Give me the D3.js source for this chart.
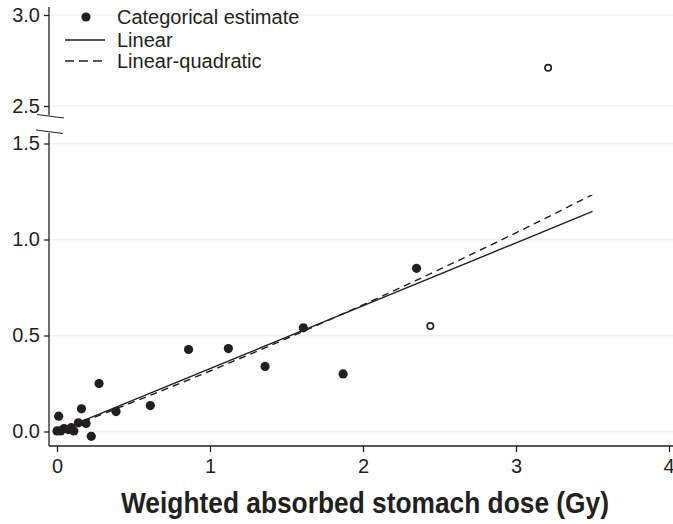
<!DOCTYPE html>
<html>
<head>
<meta charset="utf-8">
<script src="https://cdn.jsdelivr.net/npm/d3@7"></script>
<style>
  html, body { margin: 0; padding: 0; background: #fff; }
  svg { display: block; font-family: "Liberation Sans", Arial, sans-serif; }
</style>
</head>
<body>
<svg id="chart" width="673" height="524"></svg>
<script>
// ---- data ----
const filledDose = [0.00, 0.024, 0.011, 0.046, 0.074, 0.093, 0.11, 0.14, 0.19, 0.16, 0.224, 0.275, 0.386, 0.61, 0.86, 1.12, 1.36, 1.61, 1.87, 2.35];
const filledERR  = [0.003, 0.003, 0.08, 0.015, 0.01, 0.02, 0.003, 0.045, 0.042, 0.118, -0.025, 0.25, 0.104, 0.135, 0.427, 0.432, 0.339, 0.54, 0.30, 0.85];
const openDose = [2.44, 3.21];
const openERR  = [0.549, 2.71];
const linearDose = [0.1, 3.5];
const linearERR  = [0.033, 1.146];
const lqDose = [0.1, 0.5, 1.0, 1.5, 2.0, 2.5, 3.0, 3.5];
const lqERR  = [0.030, 0.154, 0.315, 0.484, 0.660, 0.844, 1.035, 1.234];
const xTicks = [0, 1, 2, 3, 4];
const yTicksLow = [0.0, 0.5, 1.0, 1.5];
const yTicksHigh = [2.5, 3.0];
const legendLabels = ["Categorical estimate", "Linear", "Linear-quadratic"];
const xTitle = "Weighted absorbed stomach dose (Gy)";

// ---- scales ----
const svg = d3.select("#chart");
const ink = "#231f20";
const x = d3.scaleLinear().domain([0, 4]).range([57, 669]);
const yLow = d3.scaleLinear().domain([0, 1.5]).range([431.5, 143.5]);
const yHigh = d3.scaleLinear().domain([2.5, 3.0]).range([106, 15]);
const yAny = v => v >= 2.0 ? yHigh(v) : yLow(v);
const axisX = 49, axisY = 446, rightEdge = 673;

// gridlines
const grid = svg.append("g");
yTicksLow.forEach(t => grid.append("line").attr("x1", axisX).attr("x2", rightEdge)
  .attr("y1", yLow(t)).attr("y2", yLow(t)).attr("stroke", "#efefef").attr("stroke-width", 1.5));
yTicksHigh.forEach(t => grid.append("line").attr("x1", axisX).attr("x2", rightEdge)
  .attr("y1", yHigh(t)).attr("y2", yHigh(t)).attr("stroke", "#efefef").attr("stroke-width", 1.5));

// y axes (two segments)
const yaLow = svg.append("g").attr("transform", `translate(${axisX},0)`)
  .call(d3.axisLeft(yLow).tickValues(yTicksLow).tickFormat(d3.format(".1f")).tickSize(5).tickSizeOuter(0));
yaLow.select(".domain").attr("d", `M0,133V${axisY}`);
const yaHigh = svg.append("g").attr("transform", `translate(${axisX},0)`)
  .call(d3.axisLeft(yHigh).tickValues(yTicksHigh).tickFormat(d3.format(".1f")).tickSize(5).tickSizeOuter(0));
yaHigh.select(".domain").attr("d", "M0,7V115");
[yaLow, yaHigh].forEach(g => {
  g.selectAll("path, line").attr("stroke", ink).attr("stroke-width", 1.3);
  g.selectAll("text").attr("font-size", 20).attr("fill", ink).attr("x", -9)
    .attr("font-family", "Liberation Sans, Arial, sans-serif");
});
// break marks
svg.append("line").attr("x1", 37).attr("y1", 114.5).attr("x2", 64).attr("y2", 118).attr("stroke", ink).attr("stroke-width", 1.2);
svg.append("line").attr("x1", 36).attr("y1", 130).attr("x2", 63).attr("y2", 133.5).attr("stroke", ink).attr("stroke-width", 1.2);

// x axis
const xa = svg.append("g").attr("transform", `translate(0,${axisY})`)
  .call(d3.axisBottom(x).tickValues(xTicks).tickFormat(d3.format("d")).tickSize(6).tickSizeOuter(0));
xa.select(".domain").attr("d", `M${axisX},0H${rightEdge}`);
xa.selectAll("path, line").attr("stroke", ink).attr("stroke-width", 1.3);
xa.selectAll("text").attr("font-size", 20).attr("fill", ink).attr("dy", "0.55em").attr("y", 16)
  .attr("font-family", "Liberation Sans, Arial, sans-serif");
xa.selectAll(".tick").filter(d => d === 4).select("text").attr("text-anchor", "end").attr("x", 5);

svg.append("text").attr("x", 365).attr("y", 513).attr("text-anchor", "middle")
  .attr("font-family", "'Liberation Sans Narrow', 'Liberation Sans', Arial, sans-serif")
  .attr("font-size", 29).attr("font-weight", "bold").attr("fill", ink)
  .attr("textLength", 488).attr("lengthAdjust", "spacingAndGlyphs").text(xTitle);

// lines
const lineGen = d3.line().x(d => x(d[0])).y(d => yLow(d[1]));
svg.append("path").datum(d3.zip(linearDose, linearERR)).attr("d", lineGen)
  .attr("fill", "none").attr("stroke", ink).attr("stroke-width", 1.4);
svg.append("path").datum(d3.zip(lqDose, lqERR)).attr("d", d3.line().curve(d3.curveMonotoneX).x(d => x(d[0])).y(d => yLow(d[1])))
  .attr("fill", "none").attr("stroke", ink).attr("stroke-width", 1.4).attr("stroke-dasharray", "7,5");

// points
svg.append("g").selectAll("circle").data(d3.zip(filledDose, filledERR)).join("circle")
  .attr("cx", d => x(d[0])).attr("cy", d => yAny(d[1])).attr("r", 4.6).attr("fill", ink);
svg.append("g").selectAll("circle").data(d3.zip(openDose, openERR)).join("circle")
  .attr("cx", d => x(d[0])).attr("cy", d => yAny(d[1])).attr("r", 3.2)
  .attr("fill", "#fff").attr("stroke", ink).attr("stroke-width", 1.6);

// legend
const lg = svg.append("g");
lg.append("circle").attr("cx", 86).attr("cy", 17).attr("r", 4.6).attr("fill", ink);
lg.append("line").attr("x1", 65).attr("x2", 105).attr("y1", 40).attr("y2", 40).attr("stroke", ink).attr("stroke-width", 1.4);
lg.append("line").attr("x1", 65).attr("x2", 105).attr("y1", 61).attr("y2", 61).attr("stroke", ink).attr("stroke-width", 1.4).attr("stroke-dasharray", "9,5");
[17, 40, 61].forEach((yy, i) => lg.append("text").attr("x", 117).attr("y", yy).attr("dy", "0.35em")
  .attr("font-size", 20).attr("fill", ink).text(legendLabels[i]));
</script>
</body>
</html>
